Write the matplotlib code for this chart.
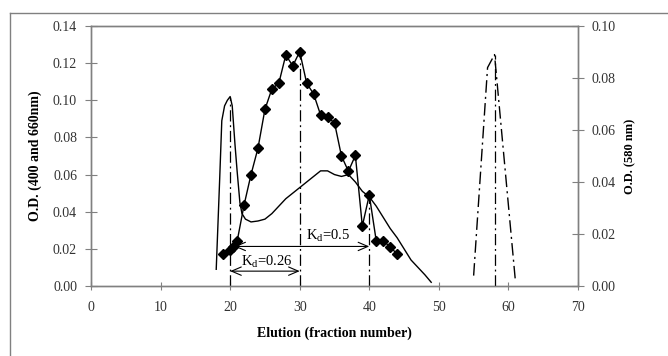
import matplotlib
matplotlib.use("Agg")
import matplotlib.pyplot as plt
from matplotlib.lines import Line2D

plt.rcParams['font.family'] = ['Liberation Serif', 'DejaVu Serif']
plt.rcParams['mathtext.fontset'] = 'custom'
plt.rcParams['mathtext.rm'] = 'Liberation Serif'
plt.rcParams['mathtext.it'] = 'Liberation Serif'

# Fractions measured at 400 nm (diamond markers), left axis
frac_a = [19, 20, 20.4, 21, 22, 23, 24, 25, 26, 27, 28, 29, 30, 31, 32, 33, 34,
          35, 36, 37, 38, 39, 40, 41, 42, 43, 44]
od_a = [0.017, 0.0195, 0.021, 0.024, 0.0436, 0.060, 0.0742, 0.0951, 0.1061,
        0.1092, 0.1244, 0.1185, 0.1262, 0.1092, 0.1034, 0.0921, 0.0908, 0.0879,
        0.070, 0.0618, 0.0703, 0.0323, 0.049, 0.0243, 0.0242, 0.0212, 0.0171]

# Fractions measured at 660 nm (solid line), left axis
frac_b = [18.0, 18.5, 18.8, 19.2, 19.6, 20.0, 20.3, 20.7, 21.0, 21.4, 21.7, 22.2,
          23.0, 24.0, 25.0, 26.0, 27.0, 28.0, 29.0, 30.0, 31.0, 32.0, 33.0, 34.0,
          35.0, 36.0, 37.0, 38.0, 39.0, 40.0, 41.0, 42.0, 43.0, 44.0, 45.0, 46.0,
          47.0, 48.0, 48.9]
od_b = [0.009, 0.058, 0.089, 0.097, 0.100, 0.102, 0.097, 0.076, 0.062, 0.045,
        0.039, 0.036, 0.0345, 0.035, 0.036, 0.039, 0.043, 0.047, 0.050, 0.053,
        0.056, 0.059, 0.062, 0.062, 0.060, 0.059, 0.060, 0.056, 0.051, 0.048,
        0.043, 0.037, 0.031, 0.026, 0.020, 0.014, 0.010, 0.006, 0.002]

# Fractions measured at 580 nm (dash-dot line), right axis
frac_c = [55, 57, 58, 61]
od_c = [0.004, 0.084, 0.089, 0.002]

# Marker lines (fraction, top value)
vlines_left = [(20, 0.102), (30, 0.1262), (40, 0.049)]
vline_right = (58, 0.089)

# Kd annotations: (start fraction, end fraction, height, label, label x, label y)
kd_arrows = [
    (20.0, 30.0, 0.0080, r'K$_{\rm d}$=0.26', 25.2, 0.0128),
    (20.6, 40.0, 0.0213, r'K$_{\rm d}$=0.5', 34.1, 0.0272),
]

x_ticks = [0, 10, 20, 30, 40, 50, 60, 70]
yl_ticks = [0.00, 0.02, 0.04, 0.06, 0.08, 0.10, 0.12, 0.14]
yr_ticks = [0.00, 0.02, 0.04, 0.06, 0.08, 0.10]

W, H = 668, 356
fig = plt.figure(figsize=(W / 100, H / 100), dpi=100)
ax = fig.add_axes([91 / W, 1 - 286 / H, (578 - 91) / W, (286 - 26) / H])
ax2 = ax.twinx()

spine_col = '#808080'
dash_dot = (0, (9, 3, 1.5, 3))

ax.plot(frac_b, od_b, color='black', lw=1.0, zorder=3)
ax.plot(frac_a, od_a, color='black', lw=1.0, marker='D', ms=5,
        markerfacecolor='black', zorder=4)
for xv, top in vlines_left:
    ax.plot([xv, xv], [0, top], color='black', lw=0.9, ls=dash_dot, zorder=2)

ax2.plot(frac_c, od_c, color='black', lw=1.0, ls=dash_dot)
ax2.plot([vline_right[0]] * 2, [0, vline_right[1]], color='black', lw=0.9, ls=dash_dot)

for x0, x1, yv, label, tx, ty in kd_arrows:
    ax.annotate('', xy=(x1, yv), xytext=(x0, yv),
                arrowprops=dict(arrowstyle='<->,head_length=0.7,head_width=0.3',
                                color='black', lw=0.8, shrinkA=0, shrinkB=0))
    ax.text(tx, ty, label, ha='center', va='center', fontsize=10.5)

ax.set_xlim(0, 70)
ax.set_ylim(0, 0.14)
ax2.set_ylim(0, 0.10)
ax.set_xticks(x_ticks)
ax.set_yticks(yl_ticks)
ax2.set_yticks(yr_ticks)
ax.set_yticklabels([f'{v:.2f}' for v in yl_ticks])
ax2.set_yticklabels([f'{v:.2f}' for v in yr_ticks])

for a in (ax, ax2):
    for s in a.spines.values():
        s.set_color(spine_col)
        s.set_linewidth(1.0)
    a.tick_params(direction='inout', length=8, width=0.8, color=spine_col,
                  labelsize=10, labelcolor='#333333', pad=6)
ax.tick_params(axis='x', length=6, pad=8)

ax.set_xlabel('Elution (fraction number)', fontsize=10, fontweight='bold', labelpad=9)
ax.set_ylabel('O.D. (400 and 660nm)', fontsize=10, fontweight='bold', labelpad=8)
ax2.set_ylabel('O.D. (580 nm)', fontsize=9, fontweight='bold', labelpad=6)

# Partial frame around the figure (left and top edges)
fig.add_artist(Line2D([10 / W, 10 / W], [0, 1 - 13 / H], transform=fig.transFigure,
                      color=spine_col, lw=1.0))
fig.add_artist(Line2D([10 / W, 1], [1 - 13 / H, 1 - 13 / H], transform=fig.transFigure,
                      color=spine_col, lw=1.0))

fig.savefig('out.png', dpi=100)
